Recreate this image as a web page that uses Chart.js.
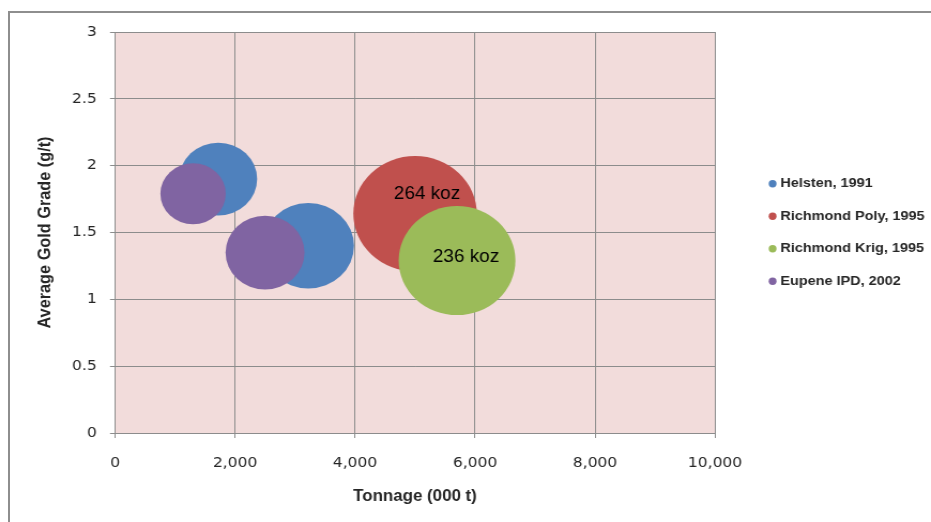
<!DOCTYPE html>
<html>
<head>
<meta charset="utf-8">
<title>Tonnage vs Average Gold Grade</title>
<script src="https://cdn.jsdelivr.net/npm/chart.js@4/dist/chart.umd.min.js"></script>
<style>
  html, body { margin: 0; padding: 0; background: #ffffff; }
  #wrap { position: relative; width: 931px; height: 522px; overflow: hidden; }
  #frame {
    position: absolute; left: 8px; top: 11px; right: -4px; bottom: -4px;
    border-top: 2px solid #8e8e8e; border-left: 2px solid #8e8e8e;
    pointer-events: none;
  }
  /* the chart is laid out 870 px wide and shown slightly widened */
  canvas { position: absolute; left: 0; top: 0; transform-origin: 0 0; transform: scaleX(1.0701); }
</style>
</head>
<body>
<div id="wrap">
  <div id="frame"></div>
  <canvas id="chart" width="870" height="522"></canvas>
</div>
<script>
// Resource estimates: tonnage (000 t), average grade (g/t) and contained gold (koz)
const seriesNames = ['Helsten, 1991', 'Richmond Poly, 1995', 'Richmond Krig, 1995', 'Eupene IPD, 2002'];

const helstenTonnage = [1720, 3220];
const helstenGrade   = [1.9, 1.4];
const helstenKoz     = [105, 145];

const polyTonnage = [5000];
const polyGrade   = [1.64];
const polyKoz     = [264];

const krigTonnage = [5700];
const krigGrade   = [1.29];
const krigKoz     = [236];

const eupeneTonnage = [1300, 2500];
const eupeneGrade   = [1.79, 1.35];
const eupeneKoz     = [74, 108];

// contained-gold labels
const polyLabels = ['264 koz'];
const krigLabels = ['236 koz'];

const xTickLabels = ['0', '2,000', '4,000', '6,000', '8,000', '10,000'];
const yTickLabels = ['0', '0.5', '1', '1.5', '2', '2.5', '3'];

const seriesColors = ['#4F81BD', '#C0504D', '#9BBB59', '#8064A2'];

// bubble area is proportional to contained gold
const BUBBLE_SCALE = 3.55;
function toPoints(tonnage, grade, koz) {
  return tonnage.map((t, i) => ({ x: t, y: grade[i], r: BUBBLE_SCALE * Math.sqrt(koz[i]) }));
}

const SANS = '"Liberation Sans", Arial, sans-serif';
const TICK_FONT = '"DejaVu Sans", Verdana, sans-serif';
const TEXT = '#262626';
const GRID = '#8c8c8c';

// pink plot-area background
const plotBackground = {
  id: 'plotBackground',
  beforeDraw(chart) {
    const { ctx, chartArea: a } = chart;
    ctx.save();
    ctx.fillStyle = '#F2DCDB';
    ctx.fillRect(a.left, a.top, a.right - a.left, a.bottom - a.top);
    ctx.restore();
  }
};

// fixed-width legend column to the right of the plot
const legendColumn = {
  id: 'legendColumn',
  beforeLayout(chart) {
    const lg = chart.legend;
    if (lg && !lg.__fixedWidth) {
      const fit = lg.fit;
      lg.fit = function () { fit.call(this); this.width = 201.8; };
      lg.__fixedWidth = true;
    }
  },
  afterLayout(chart) {
    const lg = chart.legend;
    if (lg) {
      lg.left = 702.5;
      lg.right = lg.left + lg.width;
    }
  }
};

// text labels on the bubbles that carry one
const bubbleLabels = {
  id: 'bubbleLabels',
  afterDatasetsDraw(chart, args, opts) {
    const { ctx } = chart;
    ctx.save();
    ctx.font = '17.7px ' + SANS;
    ctx.fillStyle = '#000000';
    ctx.textAlign = 'center';
    ctx.textBaseline = 'middle';
    chart.data.datasets.forEach((ds, di) => {
      if (!ds.pointLabels) return;
      const meta = chart.getDatasetMeta(di);
      const off = (opts.offsets && opts.offsets[di]) || [0, 0];
      meta.data.forEach((el, i) => {
        const txt = ds.pointLabels[i];
        if (txt) ctx.fillText(txt, el.x + off[0], el.y + off[1]);
      });
    });
    ctx.restore();
  }
};

const datasets = [
  { label: seriesNames[0], data: toPoints(helstenTonnage, helstenGrade, helstenKoz), order: 3 },
  { label: seriesNames[1], data: toPoints(polyTonnage, polyGrade, polyKoz), order: 2, pointLabels: polyLabels },
  { label: seriesNames[2], data: toPoints(krigTonnage, krigGrade, krigKoz), order: 1, pointLabels: krigLabels },
  { label: seriesNames[3], data: toPoints(eupeneTonnage, eupeneGrade, eupeneKoz), order: 0 }
].map((ds, i) => Object.assign(ds, {
  backgroundColor: seriesColors[i],
  borderWidth: 0,
  hoverBorderWidth: 0,
  pointStyle: 'circle'
}));

new Chart(document.getElementById('chart'), {
  type: 'bubble',
  data: { datasets },
  plugins: [plotBackground, legendColumn, bubbleLabels],
  options: {
    responsive: false,
    animation: false,
    events: [],
    layout: { autoPadding: false, padding: { top: 32, left: 0, right: 0, bottom: 0 } },
    scales: {
      x: {
        type: 'linear',
        min: 0, max: 10000,
        ticks: {
          stepSize: 2000,
          padding: 17,
          color: TEXT,
          font: { family: TICK_FONT, size: 14.5 },
          callback: (v, i) => xTickLabels[i]
        },
        grid: { color: GRID, lineWidth: 1, tickLength: 5, tickColor: GRID },
        border: { color: GRID, width: 1 },
        title: {
          display: true,
          text: 'Tonnage (000 t)',
          color: TEXT,
          font: { family: SANS, size: 15.8, weight: 'bold' },
          padding: { top: 0, bottom: 15.5 }
        },
        afterFit(scale) { scale.height = 89; }
      },
      y: {
        type: 'linear',
        min: 0, max: 3,
        ticks: {
          stepSize: 0.5,
          padding: 12.4,
          color: TEXT,
          font: { family: TICK_FONT, size: 14.5 },
          callback: (v, i) => yTickLabels[i]
        },
        grid: { color: GRID, lineWidth: 1, tickLength: 4.7, tickColor: GRID },
        border: { color: GRID, width: 1 },
        title: {
          display: true,
          text: 'Average Gold Grade (g/t)',
          color: TEXT,
          font: { family: SANS, size: 16.3, weight: 'bold' },
          padding: { top: 33.2, bottom: 0 }
        },
        afterFit(scale) { scale.width = 107.5; }
      }
    },
    plugins: {
      legend: {
        position: 'right',
        fullSize: false,
        labels: {
          usePointStyle: true,
          pointStyle: 'circle',
          boxWidth: 1,
          boxHeight: 5.2,
          padding: 19,
          color: TEXT,
          font: { family: SANS, size: 13.5, weight: 'bold' },
          sort: (a, b) => a.datasetIndex - b.datasetIndex
        }
      },
      tooltip: { enabled: false },
      bubbleLabels: { offsets: { 1: [11.2, -20], 2: [8.4, -3] } }
    }
  }
});
</script>
</body>
</html>
